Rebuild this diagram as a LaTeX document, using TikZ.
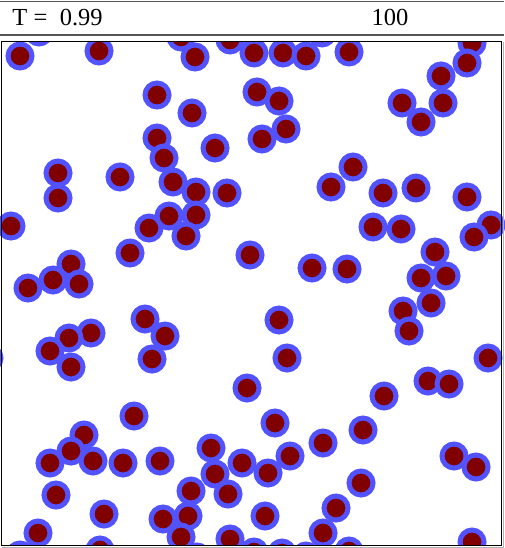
\documentclass[tikz,border=0pt]{standalone}
\usepackage{fontspec}
\setmainfont{Liberation Serif}
\definecolor{pblue}{RGB}{82,82,255}
\definecolor{pred}{RGB}{128,0,0}
\definecolor{rulegray}{RGB}{85,85,85}
\tikzset{
  particle/.style={draw=pblue, fill=pred, line width=5pt},
  headrule/.style={draw=rulegray, line width=1.7pt},
  headtext/.style={inner sep=0pt, anchor=base west, font=\fontsize{24.5}{28}\selectfont},
  boxline/.style={draw=black, line width=1.3pt},
}
\begin{document}
\begin{tikzpicture}[x=1pt,y=-1pt]
\useasboundingbox (0,0) rectangle (504,548);
\fill[white] (0,0) rectangle (504,548);
% header
\draw[headrule] (0,1.5) -- (504,1.5);
\draw[headrule] (0,35.2) -- (504,35.2);
\node[headtext] (tlabel) at (12.3,26) {T =};
\node[headtext] (tvalue) at (59.6,26) {0.99};
\node[headtext] (count) at (371.3,26) {100};
% particles
\begin{scope}
\clip (-20,41.8) rectangle (524,545.6);
\foreach \x/\y in {
20/56, 39/32, 99/51, 181/37, 195/57, 230/40, 254/53, 283/53, 306/56, 322/33,
349/52, 472/43, 467/63, 441/76, 443/103, 402/103, 421/122, 157/95, 257/92, 279/101,
192/113, 157/138, 164/158, 286/129, 262/139, 215/148, 58/173, 120/177, 173/182, 196/192,
227/193, 331/187, 353/167, 383/193, 416/188, 467/197, 58/198, 11/226, 149/228, 169/216,
196/215, 186/236, 130/253, 71/264, 53/280, 79/284, 28/288, 250/255, 312/268, 373/227,
401/229, 491/225, 474/237, 435/252, 347/269, 421/278, 446/276, 431/303, 403/311, 409/331,
145/319, 165/336, 152/359, 91/333, 69/338, 50/351, 71/367, -11/358, 279/320, 287/358,
488/358, 428/381, 449/384, 247/388, 384/396, 134/416, 275/423, 363/430, 84/435, 71/451,
50/463, 93/461, 123/463, 160/461, 211/448, 242/463, 215/474, 268/473, 290/456, 323/443,
454/456, 476/467, 361/483, 56/495, 191/491, 228/494, 104/514, 163/519, 188/516, 181/537,
230/539, 265/516, 336/508, 323/533, 38/533, 20/555, 100/550, 197/557, 254/552, 282/553,
306/556, 349/551, 472/542}
  \draw[particle] (\x,\y) circle[radius=12];
\end{scope}
% box
\draw[draw=black!30, line width=1.2pt] (2.3,547.2) -- (503.2,547.2) -- (503.2,42.3);
\draw[boxline] (1.7,41.8) rectangle (501.7,545.6);
\end{tikzpicture}
\end{document}
